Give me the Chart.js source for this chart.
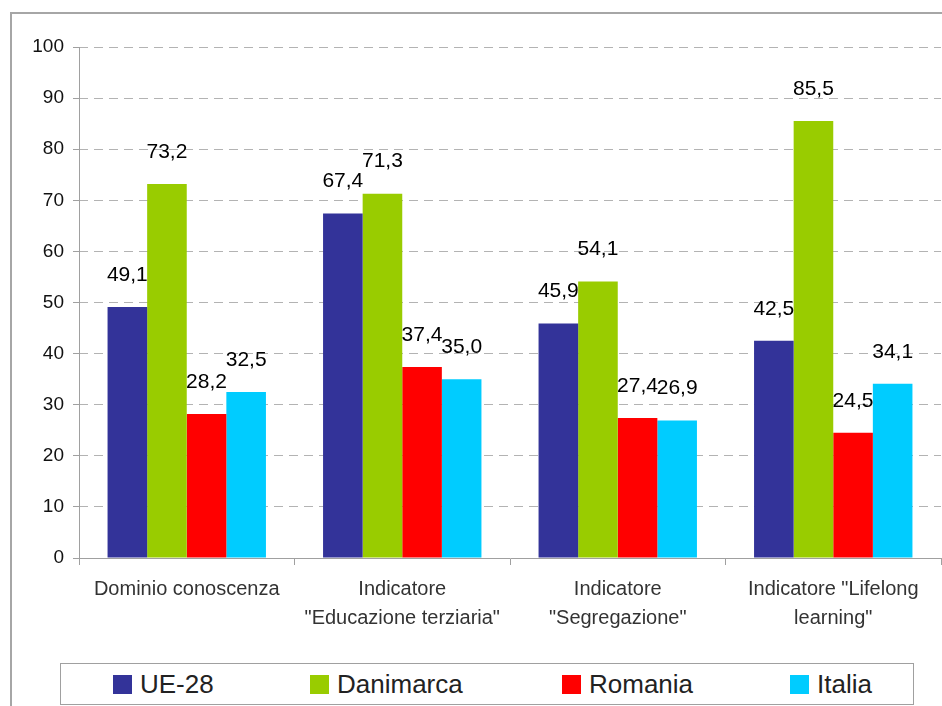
<!DOCTYPE html>
<html>
<head>
<meta charset="utf-8">
<script src="https://cdn.jsdelivr.net/npm/chart.js@4.4.1/dist/chart.umd.min.js"></script>
<style>
    body { margin: 0; background: #fff; font-family: "Liberation Sans", Arial, sans-serif; }
    #wrap { position: relative; width: 942px; height: 706px; overflow: hidden; }
    #chart { position: absolute; left: 0; top: 0; }
    .frame { position: absolute; left: 10px; top: 12px; width: 960px; height: 720px; border: 2px solid #a6a6a6; pointer-events: none; }
    .legend { position: absolute; left: 60px; top: 663px; width: 852px; height: 40px; border: 1px solid #a0a0a0; background: #fff; }
    .legend .item { position: absolute; top: 0; height: 40px; display: flex; align-items: center; font-size: 26px; color: #222; }
    .legend .sw { width: 19px; height: 19px; margin-right: 8px; }
</style>
</head>
<body>
<div id="wrap">
    <canvas id="chart" width="942" height="706"></canvas>
    <div class="frame"></div>
    <div class="legend" id="legend"></div>
</div>
<script>
// Data
const categories = [
    ['Dominio conoscenza'],
    ['Indicatore', '"Educazione terziaria"'],
    ['Indicatore', '"Segregazione"'],
    ['Indicatore "Lifelong', 'learning"']
];
const seriesNames = ['UE-28', 'Danimarca', 'Romania', 'Italia'];
const ue28 = [49.1, 67.4, 45.9, 42.5];
const danimarca = [73.2, 71.3, 54.1, 85.5];
const romania = [28.2, 37.4, 27.4, 24.5];
const italia = [32.5, 35.0, 26.9, 34.1];
const colors = ['#333399', '#99cc00', '#ff0000', '#00ccff'];
const yTicks = [0, 10, 20, 30, 40, 50, 60, 70, 80, 90, 100];

const seriesValues = [ue28, danimarca, romania, italia];

// value labels above bars
const barLabels = {
    id: 'barLabels',
    afterDatasetsDraw(chart) {
        const ctx = chart.ctx;
        ctx.save();
        ctx.font = '21px "Liberation Sans", Arial, sans-serif';
        ctx.fillStyle = '#000';
        ctx.textAlign = 'center';
        ctx.textBaseline = 'middle';
        chart.data.datasets.forEach((ds, i) => {
            const meta = chart.getDatasetMeta(i);
            meta.data.forEach((bar, j) => {
                const txt = ds.data[j].toFixed(1).replace('.', ',');
                ctx.fillText(txt, bar.x, bar.y - 32);
            });
        });
        ctx.restore();
    }
};

// solid y axis line (border dash would make it dashed)
const yAxisLine = {
    id: 'yAxisLine',
    afterDraw(chart) {
        const { ctx, chartArea } = chart;
        ctx.save();
        ctx.strokeStyle = '#a0a0a0';
        ctx.lineWidth = 1;
        ctx.beginPath();
        ctx.moveTo(chartArea.left + 0.5, chartArea.top);
        ctx.lineTo(chartArea.left + 0.5, chartArea.bottom);
        ctx.stroke();
        ctx.restore();
    }
};

const ctx = document.getElementById('chart').getContext('2d');
new Chart(ctx, {
    type: 'bar',
    data: {
        labels: categories,
        datasets: seriesNames.map((name, i) => ({
            label: name,
            data: seriesValues[i],
            backgroundColor: colors[i],
            borderWidth: 0,
            categoryPercentage: 0.735,
            barPercentage: 1
        }))
    },
    options: {
        responsive: false,
        animation: false,
        layout: { padding: { left: 0, top: 47, right: 1, bottom: 0 } },
        plugins: {
            legend: { display: false },
            tooltip: { enabled: false }
        },
        scales: {
            x: {
                grid: {
                    offset: true,
                    drawOnChartArea: false,
                    drawTicks: true,
                    tickLength: 7,
                    color: '#a0a0a0'
                },
                border: { color: '#a0a0a0', width: 1 },
                ticks: {
                    color: '#333',
                    font: { size: 20, family: '"Liberation Sans", Arial, sans-serif', lineHeight: 1.45 },
                    padding: 10,
                    maxRotation: 0,
                    autoSkip: false
                },
                afterFit(scale) { scale.height = 148; }
            },
            y: {
                min: 0,
                max: 100,
                afterBuildTicks(scale) { scale.ticks = yTicks.map(v => ({ value: v })); },
                grid: {
                    color: '#b3b3b3',
                    tickLength: 6,
                    tickBorderDash: [],
                    tickColor: '#a0a0a0'
                },
                border: { display: false, dash: [9, 6] },
                ticks: {
                    color: '#111',
                    font: { size: 19, family: '"Liberation Sans", Arial, sans-serif' },
                    padding: 9
                },
                afterFit(scale) { scale.width = 79; }
            }
        }
    },
    plugins: [barLabels, yAxisLine]
});

// legend
const legendLeft = [52, 249, 501, 729];
const legendEl = document.getElementById('legend');
seriesNames.forEach((name, i) => {
    const item = document.createElement('div');
    item.className = 'item';
    item.style.left = legendLeft[i] + 'px';
    item.innerHTML = `<span class="sw" style="background:${colors[i]}"></span>${name}`;
    legendEl.appendChild(item);
});
</script>
</body>
</html>
